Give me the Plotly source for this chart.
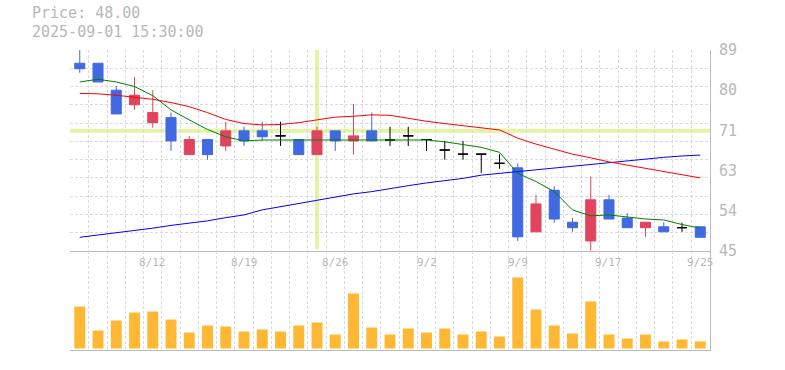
import plotly.graph_objects as go

# ---------------- data ----------------
dates = ['8/5', '8/6', '8/7', '8/8', '8/12', '8/13', '8/14', '8/15', '8/18', '8/19',
         '8/20', '8/21', '8/22', '8/25', '8/26', '8/27', '8/28', '8/29', '9/1', '9/2',
         '9/3', '9/4', '9/5', '9/8', '9/9', '9/10', '9/11', '9/12', '9/16', '9/17',
         '9/18', '9/19', '9/22', '9/24', '9/25']
opens = [86.1, 86.1, 80.2, 77.0, 73.1, 74.2, 66.1, 69.4, 68.0, 71.3,
         71.3, 70.2, 69.4, 66.1, 71.3, 69.1, 71.3, 69.3, 70.2, 69.4,
         67.1, 66.2, 66.2, 64.2, 63.2, 49.2, 58.3, 51.3, 47.2, 56.2,
         52.2, 50.1, 50.3, 50.1, 50.3]
highs = [89.0, 86.1, 81.1, 83.1, 80.2, 75.3, 70.2, 69.4, 73.3, 72.2,
         73.3, 73.3, 69.4, 72.2, 71.3, 77.2, 75.3, 72.2, 72.2, 69.4,
         69.1, 69.1, 66.2, 66.2, 64.2, 57.3, 59.2, 52.2, 61.3, 57.3,
         53.3, 51.3, 51.3, 51.2, 50.3]
lows = [84.0, 82.0, 75.0, 75.9, 72.0, 66.9, 66.1, 65.0, 66.9, 68.0,
        69.1, 68.0, 66.1, 66.1, 66.9, 66.1, 69.1, 68.0, 68.0, 66.9,
        65.0, 65.0, 62.1, 63.0, 47.2, 49.2, 51.2, 49.2, 45.1, 52.0,
        50.1, 48.1, 49.2, 49.2, 48.0]
closes = [84.9, 82.0, 75.0, 79.1, 75.3, 69.1, 69.4, 66.1, 71.3, 69.1,
          70.0, 70.2, 66.1, 71.3, 69.1, 70.2, 69.1, 69.3, 70.2, 69.4,
          67.1, 66.2, 66.2, 64.2, 48.1, 55.3, 52.0, 50.1, 56.2, 52.0,
          50.1, 51.3, 49.2, 50.1, 48.0]
volumes = [42, 18, 28, 36, 37, 29, 16, 23, 22, 17,
           19, 17, 23, 26, 14, 55, 21, 14, 20, 16,
           20, 14, 17, 12, 71, 39, 23, 15, 47, 14,
           10, 14, 7, 9, 7]
ma_short = [82.0, 82.6, 82.0, 81.0, 79.0, 75.9, 73.7, 71.6, 70.0, 69.1,
            69.3, 69.3, 69.3, 69.3, 69.3, 69.3, 69.3, 69.4, 69.4, 69.3,
            68.9, 68.3, 67.7, 66.6, 62.0, 60.2, 58.0, 54.0, 52.7, 52.9,
            52.4, 52.0, 51.8, 50.8, 50.0]
ma_mid = [79.5, 79.4, 79.1, 78.6, 78.2, 77.5, 76.6, 75.3, 73.8, 72.9,
          72.6, 72.7, 73.1, 73.7, 74.3, 74.5, 74.8, 74.7, 74.0, 73.4,
          72.9, 72.4, 71.9, 71.5, 69.7, 68.4, 67.3, 66.2, 65.4, 64.5,
          63.8, 63.1, 62.5, 61.8, 61.0]
ma_long = [48.0, 48.5, 49.0, 49.4, 50.0, 50.6, 51.1, 51.6, 52.3, 52.9,
           54.0, 54.7, 55.4, 56.2, 56.9, 57.5, 58.0, 58.7, 59.3, 59.9,
           60.4, 60.9, 61.6, 62.0, 62.4, 62.7, 63.2, 63.6, 63.9, 64.3,
           64.8, 65.1, 65.5, 65.8, 66.0]
price_tick_vals = [45, 53.8, 62.6, 71.4, 80.2, 89]
price_tick_text = ['45', '54', '63', '71', '80', '89']
date_label_idx = [4, 9, 14, 19, 24, 29, 34]
header_price = 'Price: 48.00'
header_time = '2025-09-01 15:30:00'
cross_idx = 13
cross_price = 71.3

# ---------------- styles ----------------
UP = '#e2435f'
DOWN = '#4169e1'
DOJI = '#000000'
VOL = '#ffb833'
GRID = '#dadada'
AXIS = '#bbbbbb'
TXT = '#b8b8b8'
MONO = 'DejaVu Sans Mono'
CROSS = '#e3f4a6'

x = list(range(len(dates)))
groups = [
    ([i for i in x if closes[i] < opens[i]], DOWN),
    ([i for i in x if closes[i] > opens[i]], UP),
    ([i for i in x if closes[i] == opens[i]], DOJI),
]

fig = go.Figure()
for idxs, col in groups:
    fig.add_trace(go.Candlestick(
        x=idxs,
        open=[opens[i] for i in idxs], high=[highs[i] for i in idxs],
        low=[lows[i] for i in idxs], close=[closes[i] for i in idxs],
        increasing=dict(line=dict(color=col, width=1), fillcolor=col),
        decreasing=dict(line=dict(color=col, width=1), fillcolor=col),
        whiskerwidth=0, xaxis='x', yaxis='y', hoverinfo='skip', showlegend=False))

for ma, col in [(ma_long, '#0000ff'), (ma_mid, '#ff0000'), (ma_short, '#008000')]:
    fig.add_trace(go.Scatter(x=x, y=ma, mode='lines', line=dict(color=col, width=1),
                             xaxis='x', yaxis='y', hoverinfo='skip', showlegend=False))

fig.add_trace(go.Bar(x=x, y=volumes, marker=dict(color=VOL, line=dict(width=0)),
                     xaxis='x2', yaxis='y2', hoverinfo='skip', showlegend=False))

# invisible trace to carry the price label axis
fig.add_trace(go.Scatter(x=x, y=closes, mode='lines', line=dict(width=0), opacity=0,
                         xaxis='x', yaxis='y3', hoverinfo='skip', showlegend=False))

xr = [-0.535, len(dates) - 1 + 0.535]
grid_x = [i - 0.5 for i in range(len(dates) + 1)]

common_x = dict(range=xr, tickmode='array', tickvals=grid_x, showticklabels=False, ticks='',
                showgrid=True, gridcolor=GRID, griddash='3px,2px', gridwidth=1,
                showline=True, linecolor=AXIS, linewidth=1, zeroline=False,
                fixedrange=True, automargin=False)

fig.update_layout(
    width=785, height=370,
    margin=dict(l=70, r=75, t=50, b=20, autoexpand=False),
    paper_bgcolor='white', plot_bgcolor='white',
    hovermode=False, showlegend=False,
    bargap=0.4, boxgap=0.45, boxgroupgap=0,
    xaxis=dict(domain=[0, 1], anchor='y', rangeslider=dict(visible=False), **common_x),
    xaxis2=dict(domain=[0, 1], anchor='y2', **common_x),
    yaxis=dict(domain=[0.33, 1], anchor='x', range=[45, 89], tick0=45, dtick=4,
               showticklabels=False, ticks='', showgrid=True, gridcolor=GRID,
               griddash='3px,2px', showline=True, side='right', linecolor=AXIS,
               linewidth=1, zeroline=False, fixedrange=True, automargin=False),
    yaxis3=dict(overlaying='y', anchor='x', side='right', range=[45, 89],
                tickmode='array', tickvals=price_tick_vals, ticktext=price_tick_text,
                showgrid=False, showline=False, zeroline=False, ticks='',
                tickfont=dict(family=MONO, size=15, color=TXT),
                ticklabelstandoff=8, fixedrange=True, automargin=False),
    yaxis2=dict(domain=[0, 0.33], anchor='x2', range=[-1.5, 97.5],
                showgrid=False, showticklabels=False, ticks='', showline=True,
                side='right', linecolor=AXIS, linewidth=1, zeroline=False,
                fixedrange=True, automargin=False),
)

# crosshair
fig.add_shape(type='line', xref='x', yref='y domain', x0=cross_idx, x1=cross_idx, y0=0.01, y1=1,
              line=dict(color=CROSS, width=4), layer='below')
fig.add_shape(type='line', xref='x domain', yref='y', x0=0, x1=1, y0=cross_price, y1=cross_price,
              line=dict(color=CROSS, width=4), layer='below')

# date labels
for i in date_label_idx:
    fig.add_annotation(x=i, xref='x', y=0.2933, yref='paper', text=dates[i],
                       showarrow=False, font=dict(family=MONO, size=11, color=TXT),
                       xanchor='center', yanchor='middle')

# header
fig.add_annotation(x=-0.0625, xref='paper', y=1.1233, yref='paper', text=header_price,
                   showarrow=False, xanchor='left', yanchor='middle',
                   font=dict(family=MONO, size=15, color=TXT))
fig.add_annotation(x=-0.0625, xref='paper', y=1.06, yref='paper', text=header_time,
                   showarrow=False, xanchor='left', yanchor='middle',
                   font=dict(family=MONO, size=15, color=TXT))

# remove the default 8px page margin so the figure sits at the window's top-left corner
fig.write_html('out.html', config={'displayModeBar': False, 'staticPlot': True},
               post_script="document.body.style.margin='0';")
